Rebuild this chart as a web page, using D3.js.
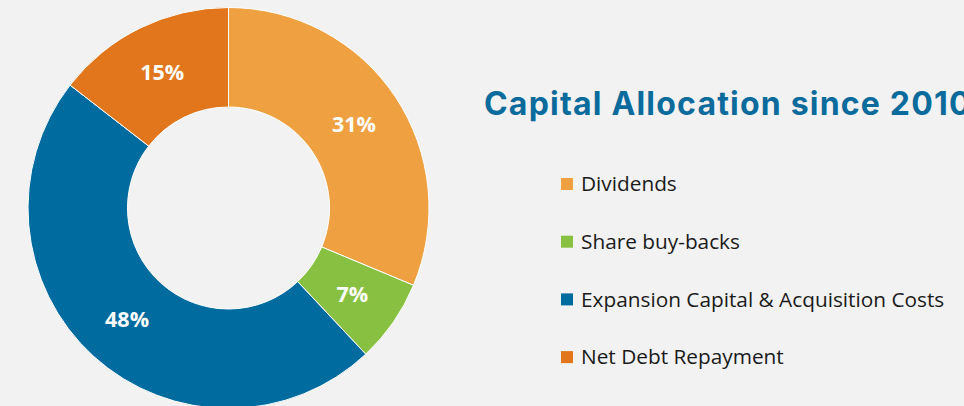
<!DOCTYPE html>
<html>
<head>
<meta charset="utf-8">
<script src="https://cdn.jsdelivr.net/npm/d3@7"></script>
<style>
  body { margin: 0; background: #f2f2f2; }
  svg { display: block; }
</style>
</head>
<body>
<div id="chart"></div>
<script>
const categories = ['Dividends', 'Share buy-backs', 'Expansion Capital & Acquisition Costs', 'Net Debt Repayment']
const values = [31.3, 6.7, 47.5, 14.5]
const colors = ['#efa142', '#88c142', '#006b9e', '#e1761c']
const title = 'Capital Allocation since 2010'

const width = 964
const height = 406

const svg = d3
  .select('#chart')
  .append('svg')
  .attr('width', width)
  .attr('height', height)

svg.append('rect')
  .attr('width', width)
  .attr('height', height)
  .attr('fill', '#f2f2f2')

const data = categories.map((c, i) => ({ name: c, value: values[i], color: colors[i] }))

const pie = d3.pie().sort(null).value(d => d.value)
const arc = d3.arc().innerRadius(101).outerRadius(200.5)

const donut = svg.append('g')
  .attr('transform', 'translate(228.5,208)')

donut.selectAll('path')
  .data(pie(data))
  .enter()
  .append('path')
  .attr('d', arc)
  .attr('fill', d => d.data.color)
  .attr('stroke', '#ffffff')
  .attr('stroke-width', 1)

donut.selectAll('.label')
  .data(pie(data))
  .enter()
  .append('text')
  .attr('class', 'label')
  .attr('transform', d => `translate(${arc.centroid(d)})`)
  .attr('text-anchor', 'middle')
  .attr('dy', '0.36em')
  .attr('fill', '#ffffff')
  .attr('font-family', 'Open Sans, sans-serif')
  .attr('font-weight', 700)
  .attr('font-size', 21.5)
  .text(d => Math.round(d.data.value) + '%')

// title runs off the right edge, as in the original
svg.append('text')
  .attr('x', 484)
  .attr('y', 115)
  .attr('fill', '#0a6b9c')
  .attr('font-family', 'Inter, sans-serif')
  .attr('font-weight', 700)
  .attr('font-size', 32)
  .attr('letter-spacing', 1.2)
  .text(title)

const legend = svg.append('g')
  .selectAll('g')
  .data(data)
  .enter()
  .append('g')
  .attr('transform', (d, i) => `translate(561,${184 + i * 57.7})`)

legend.append('rect')
  .attr('x', 0)
  .attr('y', -6)
  .attr('width', 12)
  .attr('height', 12)
  .attr('fill', d => d.color)

legend.append('text')
  .attr('x', 20)
  .attr('dy', '0.35em')
  .attr('fill', '#1a1a1a')
  .attr('font-family', 'Open Sans, sans-serif')
  .attr('font-size', 20.8)
  .text(d => d.name)
</script>
</body>
</html>
